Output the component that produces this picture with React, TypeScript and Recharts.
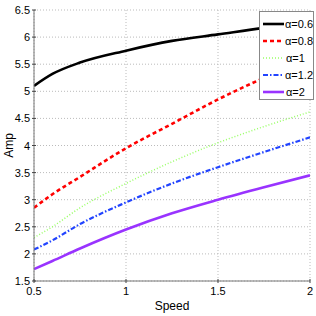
import React from 'react';
import { LineChart, Line, XAxis, YAxis, CartesianGrid, Label } from 'recharts';

// --- chart values ---
const speed = [0.5, 0.6, 0.75, 1, 1.25, 1.5, 1.75, 2];
const amp06 = [5.1, 5.32, 5.53, 5.75, 5.93, 6.05, 6.17, 6.27];
const amp08 = [2.85, 3.1, 3.42, 3.95, 4.4, 4.85, 5.25, 5.62];
const amp1 = [2.3, 2.5, 2.85, 3.3, 3.7, 4.05, 4.35, 4.62];
const amp12 = [2.08, 2.25, 2.55, 2.95, 3.3, 3.6, 3.88, 4.15];
const amp2 = [1.72, 1.87, 2.1, 2.45, 2.75, 3.0, 3.23, 3.45];

const xTicks = [0.5, 1, 1.5, 2];
const yTicks = [1.5, 2, 2.5, 3, 3.5, 4, 4.5, 5, 5.5, 6, 6.5];

const series = [
  { key: 'a06', name: '\u03b1=0.6', values: amp06, color: '#000000', width: 2.6, dash: undefined },
  { key: 'a08', name: '\u03b1=0.8', values: amp08, color: '#ff0000', width: 2.6, dash: '4 3' },
  { key: 'a1', name: '\u03b1=1', values: amp1, color: '#99ff66', width: 1.5, dash: '1 2' },
  { key: 'a12', name: '\u03b1=1.2', values: amp12, color: '#2244ff', width: 2.2, dash: '5 2 1.5 2' },
  { key: 'a2', name: '\u03b1=2', values: amp2, color: '#9933ff', width: 2.6, dash: undefined },
];

const data = speed.map((s, i) => {
  const row: any = { speed: s };
  series.forEach((sr) => (row[sr.key] = sr.values[i]));
  return row;
});

const font = 'Liberation Sans, Arial, sans-serif';

// ticks drawn inward, MATLAB style
const BottomTick = ({ x, y, payload }: any) => (
  <g>
    <line x1={x} y1={y} x2={x} y2={y - 4} stroke="#444" />
    <text x={x} y={y + 12} textAnchor="middle" fontSize={11} fontFamily={font} fill="#000">
      {payload.value}
    </text>
  </g>
);

const LeftTick = ({ x, y, payload }: any) => (
  <g>
    <line x1={x} y1={y} x2={x + 4} y2={y} stroke="#444" />
    <text x={x - 2} y={y + 4} textAnchor="end" fontSize={11} fontFamily={font} fill="#000">
      {payload.value}
    </text>
  </g>
);

const TopTick = ({ x, y }: any) => <line x1={x} y1={y} x2={x} y2={y + 4} stroke="#444" />;
const RightTick = ({ x, y }: any) => <line x1={x} y1={y} x2={x - 4} y2={y} stroke="#444" />;

const LegendBox = () => (
  <div
    style={{
      position: 'absolute',
      left: 259,
      top: 11,
      width: 55,
      height: 89,
      background: '#fff',
      border: '1px solid #888',
      boxSizing: 'border-box',
      fontFamily: font,
      fontSize: 11,
      paddingTop: 3,
    }}
  >
    {series.map((s) => (
      <div key={s.key} style={{ display: 'flex', alignItems: 'center', height: 17 }}>
        <svg width={24} height={6} style={{ marginLeft: 2 }}>
          <line x1={1} y1={3} x2={22} y2={3} stroke={s.color} strokeWidth={s.width} strokeDasharray={s.dash} />
        </svg>
        <span>{s.name}</span>
      </div>
    ))}
  </div>
);

export default function App() {
  return (
    <div style={{ position: 'absolute', left: 0, top: 0, width: 316, height: 316, background: '#fff' }}>
      <LineChart width={316} height={316} data={data} margin={{ top: 10, right: 6, left: 0, bottom: 0 }}>
        <CartesianGrid stroke="#bbb" strokeDasharray="1 2" />
        <XAxis
          dataKey="speed"
          type="number"
          domain={[0.5, 2]}
          ticks={xTicks}
          tickSize={0}
          tick={<BottomTick />}
          height={35}
          stroke="#777"
          allowDataOverflow
        >
          <Label value="Speed" position="insideBottom" offset={6} style={{ fontSize: 12, fontFamily: font, fill: '#000' }} />
        </XAxis>
        <XAxis
          xAxisId="top"
          orientation="top"
          type="number"
          domain={[0.5, 2]}
          ticks={xTicks}
          tickSize={0}
          tick={<TopTick />}
          height={0}
          stroke="#333"
        />
        <YAxis
          type="number"
          domain={[1.5, 6.5]}
          ticks={yTicks}
          tickSize={0}
          tick={<LeftTick />}
          width={34}
          stroke="#777"
        >
          <Label value="Amp" angle={-90} position="insideLeft" offset={9} style={{ fontSize: 12, fontFamily: font, fill: '#000', textAnchor: 'middle' }} />
        </YAxis>
        <YAxis
          yAxisId="right"
          orientation="right"
          type="number"
          domain={[1.5, 6.5]}
          ticks={yTicks}
          tickSize={0}
          tick={<RightTick />}
          width={0}
          stroke="#777"
        />
        {series.map((s) => (
          <Line
            key={s.key}
            dataKey={s.key}
            name={s.name}
            type="monotone"
            stroke={s.color}
            strokeWidth={s.width}
            strokeDasharray={s.dash}
            dot={false}
            isAnimationActive={false}
          />
        ))}
      </LineChart>
      <LegendBox />
    </div>
  );
}
